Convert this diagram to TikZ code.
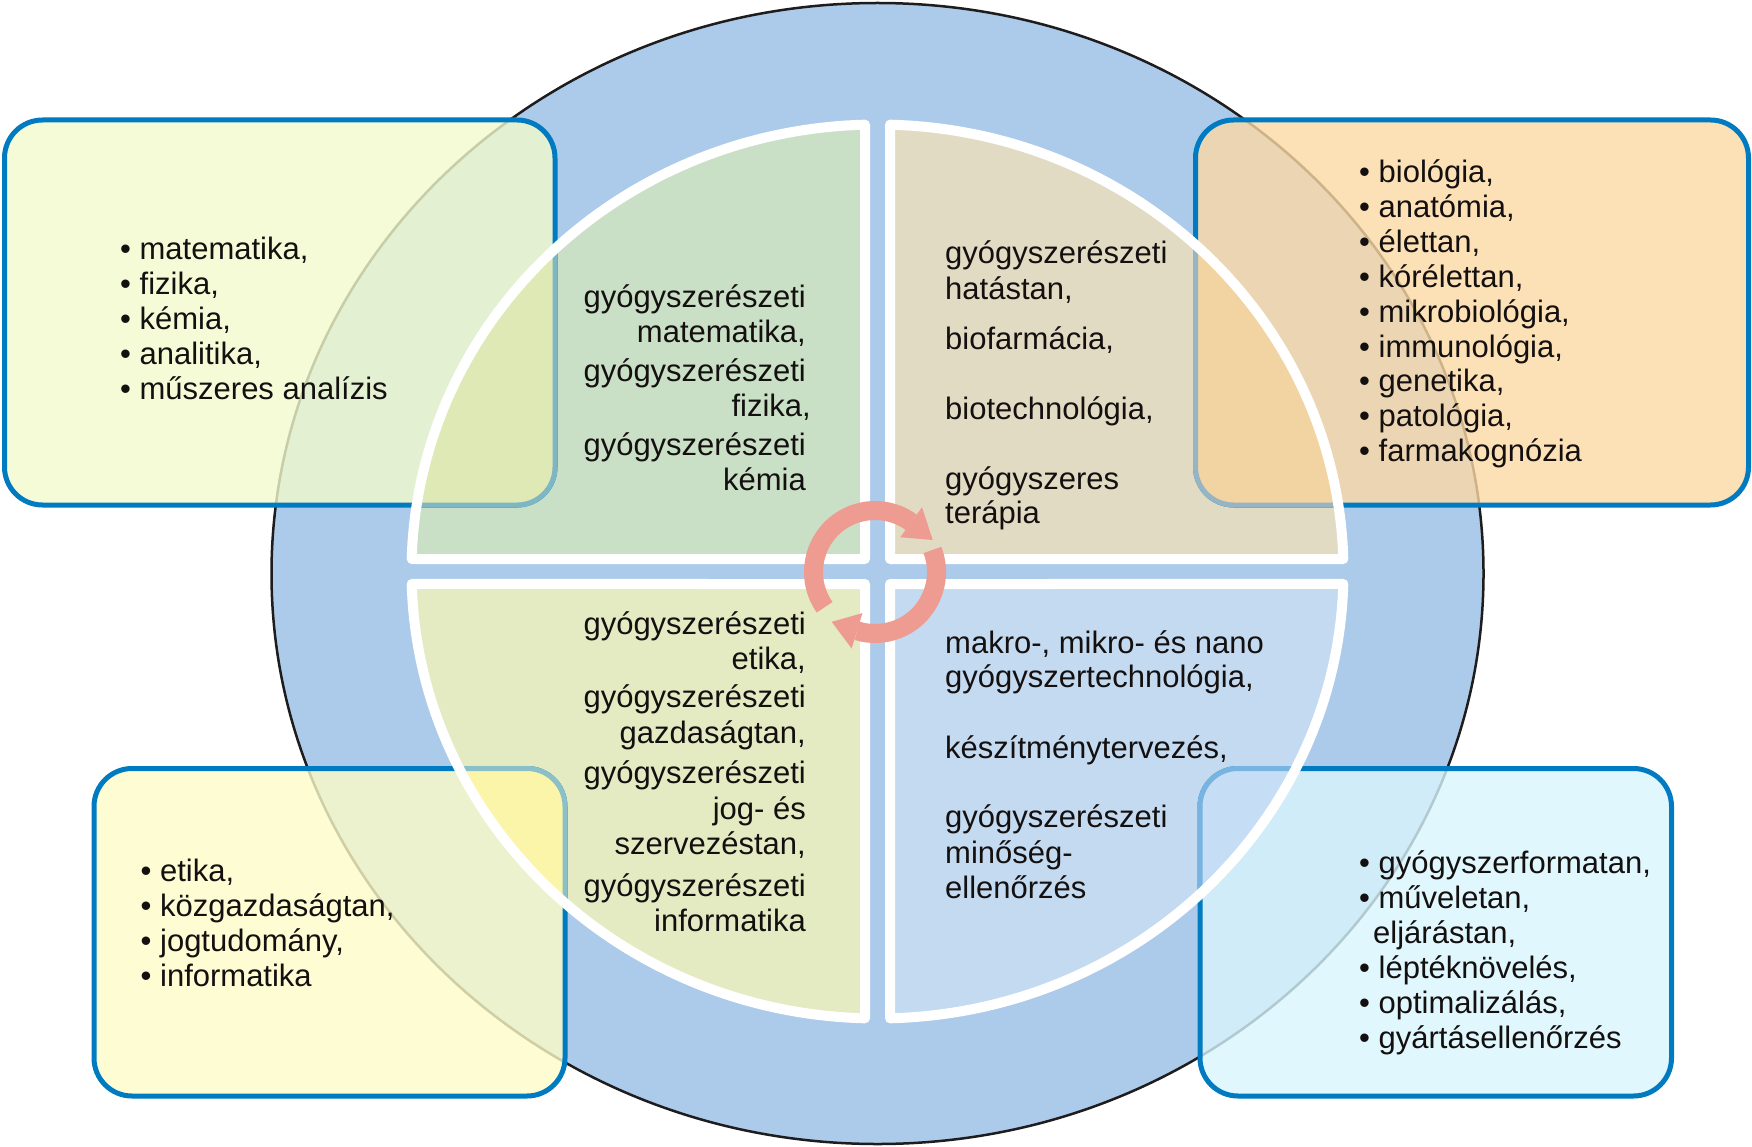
\documentclass[tikz,border=0pt]{standalone}
\usepackage{fontspec}
\setmainfont{Liberation Sans}
\usetikzlibrary{calc}
\definecolor{bigblue}{RGB}{172,203,234}
\definecolor{outl}{RGB}{30,28,28}
\definecolor{qTL}{RGB}{201,223,198}
\definecolor{qTR}{RGB}{226,219,196}
\definecolor{qBL}{RGB}{228,235,195}
\definecolor{qBR}{RGB}{195,218,241}
\definecolor{boxblue}{RGB}{0,123,194}
\definecolor{bTL}{RGB}{241,250,204}
\definecolor{bTR}{RGB}{251,216,164}
\definecolor{bBL}{RGB}{252,251,199}
\definecolor{bBR}{RGB}{216,245,252}
\definecolor{iTL}{RGB}{223,233,181}
\definecolor{iTR}{RGB}{242,211,162}
\definecolor{iBL}{RGB}{250,245,168}
\definecolor{iBR}{RGB}{198,222,245}
\definecolor{fTL}{RGB}{127,182,196}
\definecolor{fTR}{RGB}{150,180,195}
\definecolor{fBL}{RGB}{140,192,200}
\definecolor{fBR}{RGB}{120,180,225}
\definecolor{ringc}{RGB}{238,155,145}
\definecolor{txtc}{RGB}{20,16,16}
\def\qa{88.4629}
\def\qb{1.6024}
\newcommand\pathTR{($(C)+(-\qa:466 and 447)$) arc[start angle=-\qa, end angle=-\qb, x radius=466, y radius=447] -- ($(C)+(12.5,-12.5)$) -- cycle}
\newcommand\pathBR{($(C)+(\qb:466 and 447)$) arc[start angle=\qb, end angle=\qa, x radius=466, y radius=447] -- ($(C)+(12.5,12.5)$) -- cycle}
\newcommand\pathBL{($(C)+(180-\qa:466 and 447)$) arc[start angle=180-\qa, end angle=180-\qb, x radius=466, y radius=447] -- ($(C)+(-12.5,12.5)$) -- cycle}
\newcommand\pathTL{($(C)+(180+\qb:466 and 447)$) arc[start angle=180+\qb, end angle=180+\qa, x radius=466, y radius=447] -- ($(C)+(-12.5,-12.5)$) -- cycle}
\newcommand\boxTL{(4.5,120) rectangle (555,505)}
\newcommand\boxTR{(1195.5,120) rectangle (1748.5,505)}
\newcommand\boxBL{(94,768.5) rectangle (565,1096)}
\newcommand\boxBR{(1200,768.5) rectangle (1671.5,1096)}
\tikzset{
  boxst/.style={draw=boxblue, line width=5, rounded corners=38, fill opacity=0.8},
  overst/.style={line width=5, rounded corners=38},
  qstroke/.style={draw=white, line width=10, line join=round},
  txt/.style={inner sep=0pt, yshift=-2.5pt, font=\fontsize{31}{35}\selectfont, text=txtc},
  ring/.style={draw=ringc, line width=19},
}
\begin{document}
\begin{tikzpicture}[x=1pt,y=-1pt]
\useasboundingbox (0,0) rectangle (1752,1147);
\coordinate (C) at (877.5,571.5);
\coordinate (E) at (877.5,573.5);
\coordinate (R) at (875,572);
% big ellipse
\fill[bigblue] (E) ellipse[x radius=606, y radius=570.5];
\draw[outl, line width=2.5] (E) ellipse[x radius=606, y radius=570.5];
% quadrant fills
\fill[qTL] \pathTL;
\fill[qTR] \pathTR;
\fill[qBL] \pathBL;
\fill[qBR] \pathBR;
% boxes
\path[boxst, fill=bTL] \boxTL;
\path[boxst, fill=bTR] \boxTR;
\path[boxst, fill=bBL] \boxBL;
\path[boxst, fill=bBR] \boxBR;
% overlap of boxes and quadrants
\begin{scope}\clip \pathTL; \path[overst, fill=iTL, draw=fTL] \boxTL; \end{scope}
\begin{scope}\clip \pathTR; \path[overst, fill=iTR, draw=fTR] \boxTR; \end{scope}
\begin{scope}\clip \pathBL; \path[overst, fill=iBL, draw=fBL] \boxBL; \end{scope}
\begin{scope}\clip \pathBR; \path[overst, fill=iBR, draw=fBR] \boxBR; \end{scope}
% quadrant white borders
\path[qstroke] \pathTL;
\path[qstroke] \pathTR;
\path[qstroke] \pathBL;
\path[qstroke] \pathBR;
% circular arrows
\path[ring] ($(R)+(145:61.5)$) arc[start angle=145, end angle=306, radius=61.5];
\fill[ringc] ($(R)+(306:43)$) -- ($(R)+(306:80)$) -- ($(R)+(331:66)$) -- cycle;
\path[ring] ($(R)+(339:61.5)$) arc[start angle=339, end angle=467, radius=61.5];
\fill[ringc] ($(R)+(107:43)$) -- ($(R)+(107:80)$) -- ($(R)+(131:66)$) -- cycle;
% box lists
\foreach \t [count=\i] in {{• matematika,},{• fizika,},{• kémia,},{• analitika,},{• műszeres analízis}}
  \node[txt, anchor=base west] (tl\i) at (120,{256.7+35*(\i-1)}) {\t};
\foreach \t [count=\i] in {{• biológia,},{• anatómia,},{• élettan,},{• kórélettan,},{• mikrobiológia,},{• immunológia,},{• genetika,},{• patológia,},{• farmakognózia}}
  \node[txt, anchor=base west] (tr\i) at (1359,{180+34.9*(\i-1)}) {\t};
\foreach \t [count=\i] in {{• etika,},{• közgazdaságtan,},{• jogtudomány,},{• informatika}}
  \node[txt, anchor=base west] (bl\i) at (140.5,{879.3+35*(\i-1)}) {\t};
\foreach \x/\y/\t [count=\i] in {1359/871.4/{• gyógyszerformatan,},1359/906.4/{• műveletan,},1373/941.4/{eljárástan,},1359/976.4/{• léptéknövelés,},1359/1011.4/{• optimalizálás,},1359/1046.4/{• gyártásellenőrzés}}
  \node[txt, anchor=base west] (br\i) at (\x,\y) {\t};
% quadrant texts
\foreach \x/\y/\t [count=\i] in {806/305/{gyógyszerészeti},806/340/{matematika,},806/379.3/{gyógyszerészeti},811/414/{fizika,},806/453.3/{gyógyszerészeti},806/488.3/{kémia}}
  \node[txt, anchor=base east] (qtl\i) at (\x,\y) {\t};
\foreach \y/\t [count=\i] in {261.5/{gyógyszerészeti},296.7/{hatástan,},346.7/{biofarmácia,},416.7/{biotechnológia,},486.7/{gyógyszeres},520.5/{terápia}}
  \node[txt, anchor=base west] (qtr\i) at (945,\y) {\t};
\foreach \y/\t [count=\i] in {631.5/{gyógyszerészeti},666.8/{etika,},705/{gyógyszerészeti},740.5/{gazdaságtan,},781.3/{gyógyszerészeti},816.7/{jog- és},852/{szervezéstan,},893.7/{gyógyszerészeti},929/{informatika}}
  \node[txt, anchor=base east] (qbl\i) at (806,\y) {\t};
\foreach \y/\t [count=\i] in {650.6/{makro-, mikro- és nano},685.4/{gyógyszertechnológia,},755.6/{készítménytervezés,},825.4/{gyógyszerészeti},860.5/{minőség-},895.6/{ellenőrzés}}
  \node[txt, anchor=base west] (qbr\i) at (945,\y) {\t};
\end{tikzpicture}
\end{document}
